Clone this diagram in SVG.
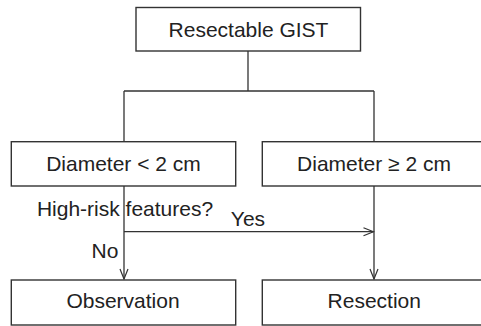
<svg xmlns="http://www.w3.org/2000/svg" width="481" height="326" viewBox="0 0 481 326">
<defs>
<marker id="arr" markerWidth="12" markerHeight="10" refX="11" refY="5" orient="auto" markerUnits="userSpaceOnUse">
<path d="M1,1 L11,5 L1,9" fill="none" stroke="#333" stroke-width="1.2"/>
</marker>
<style>
.box{fill:#fff;stroke:#333;stroke-width:1.4}
.lbl{font-family:"Liberation Sans",Arial,sans-serif;font-size:21px;fill:#222;text-anchor:middle}
.ln{fill:none;stroke:#333;stroke-width:1.3}
</style>
</defs>
<rect width="481" height="326" fill="#fff"/>
<g id="connectors">
<path class="ln" d="M248,51 V91 M124,91 H374 M124,91 V142 M374,91 V142"/>
<path class="ln" d="M124,186 V279" marker-end="url(#arr)"/>
<path class="ln" d="M374,186 V279" marker-end="url(#arr)"/>
<path class="ln" d="M124,231.7 H373.5" marker-end="url(#arr)"/>
<text class="lbl" x="125" y="215.7">High-risk features?</text>
<text class="lbl" x="248" y="225.7">Yes</text>
<text class="lbl" x="105" y="257.7">No</text>
</g>
<g id="n-resectable">
<rect class="box" x="136" y="7.5" width="224.5" height="43.5"/>
<text class="lbl" x="248.5" y="36.7">Resectable GIST</text>
</g>
<g id="n-small">
<rect class="box" x="11.3" y="141.7" width="224.4" height="44.3"/>
<text class="lbl" x="123.5" y="170.7">Diameter &lt; 2 cm</text>
</g>
<g id="n-large">
<rect class="box" x="262.3" y="141.7" width="225" height="44.3"/>
<text class="lbl" x="374" y="170.5">Diameter ≥ 2 cm</text>
</g>
<g id="n-observation">
<rect class="box" x="11.3" y="280" width="224.4" height="45"/>
<text class="lbl" x="123" y="308.3">Observation</text>
</g>
<g id="n-resection">
<rect class="box" x="262.3" y="280" width="225" height="45"/>
<text class="lbl" x="374.3" y="308.3">Resection</text>
</g>
</svg>
